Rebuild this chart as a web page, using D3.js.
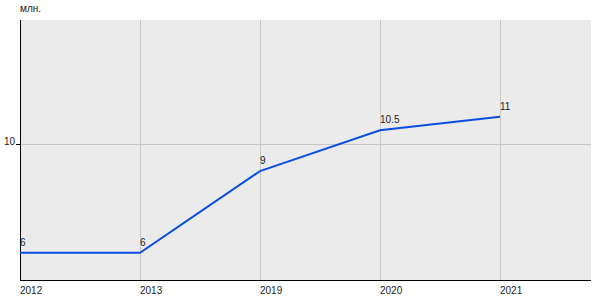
<!DOCTYPE html>
<html>
<head>
<meta charset="utf-8">
<script src="https://cdn.jsdelivr.net/npm/d3@7"></script>
<style>
    body { margin: 0; background: #fff; }
    text { font-family: "Liberation Sans", Arial, sans-serif; fill: #222; }
</style>
</head>
<body>
<div id="container"></div>
<script>
const years = ["2012", "2013", "2019", "2020", "2021"];
const values = [6, 6, 9, 10.5, 11];
const valueLabels = ["6", "6", "9", "10.5", "11"];
const yTicks = [10];
const unitLabel = "млн.";

const width = 600;
const height = 300;
const plotLeft = 20, plotRight = 591, plotTop = 20, plotBottom = 280;

let svg = d3.select("#container").append("svg")
    .attr("width", width)
    .attr("height", height);

let x = d3.scalePoint().domain(years).range([plotLeft, 500]);
let y = d3.scaleLinear().domain([5, 14.55]).range([plotBottom, plotTop]);

svg.append("rect")
    .attr("x", plotLeft).attr("y", plotTop)
    .attr("width", plotRight - plotLeft).attr("height", plotBottom - plotTop)
    .attr("fill", "#ebebeb");

// vertical grid
svg.append("g")
    .selectAll("line")
    .data(years)
    .join("line")
    .attr("x1", d => x(d) + 0.5).attr("x2", d => x(d) + 0.5)
    .attr("y1", plotTop).attr("y2", plotBottom)
    .attr("stroke", "#c8c8c8");

// horizontal grid
svg.append("g")
    .selectAll("line")
    .data(yTicks)
    .join("line")
    .attr("x1", plotLeft).attr("x2", plotRight)
    .attr("y1", d => Math.round(y(d)) + 0.5).attr("y2", d => Math.round(y(d)) + 0.5)
    .attr("stroke", "#c8c8c8");

// axes
svg.append("line")
    .attr("x1", plotLeft + 0.5).attr("x2", plotLeft + 0.5)
    .attr("y1", plotTop).attr("y2", plotBottom)
    .attr("stroke", "#000");
svg.append("line")
    .attr("x1", plotLeft).attr("x2", plotRight)
    .attr("y1", plotBottom + 0.5).attr("y2", plotBottom + 0.5)
    .attr("stroke", "#000");

svg.append("g")
    .selectAll("line")
    .data(yTicks)
    .join("line")
    .attr("x1", plotLeft - 4).attr("x2", plotLeft)
    .attr("y1", d => Math.round(y(d)) + 0.5).attr("y2", d => Math.round(y(d)) + 0.5)
    .attr("stroke", "#000");

svg.append("g")
    .selectAll("text")
    .data(yTicks)
    .join("text")
    .attr("x", plotLeft - 5)
    .attr("y", d => y(d) + 1)
    .attr("text-anchor", "end")
    .attr("font-size", 10)
    .text(d => d);

svg.append("g")
    .selectAll("text")
    .data(years)
    .join("text")
    .attr("x", d => x(d))
    .attr("y", 294)
    .attr("font-size", 10)
    .text(d => d);

svg.append("text")
    .attr("x", plotLeft)
    .attr("y", 12)
    .attr("font-size", 10)
    .text(unitLabel);

let pts = years.map((d, i) => [x(d), y(values[i])]);

svg.append("path")
    .attr("d", d3.line()(pts))
    .attr("fill", "none")
    .attr("stroke", "#0a4fe0")
    .attr("stroke-width", 2);

svg.append("g")
    .selectAll("text")
    .data(years)
    .join("text")
    .attr("x", d => x(d))
    .attr("y", (d, i) => y(values[i]) - 7)
    .attr("font-size", 10)
    .text((d, i) => valueLabels[i]);
</script>
</body>
</html>
